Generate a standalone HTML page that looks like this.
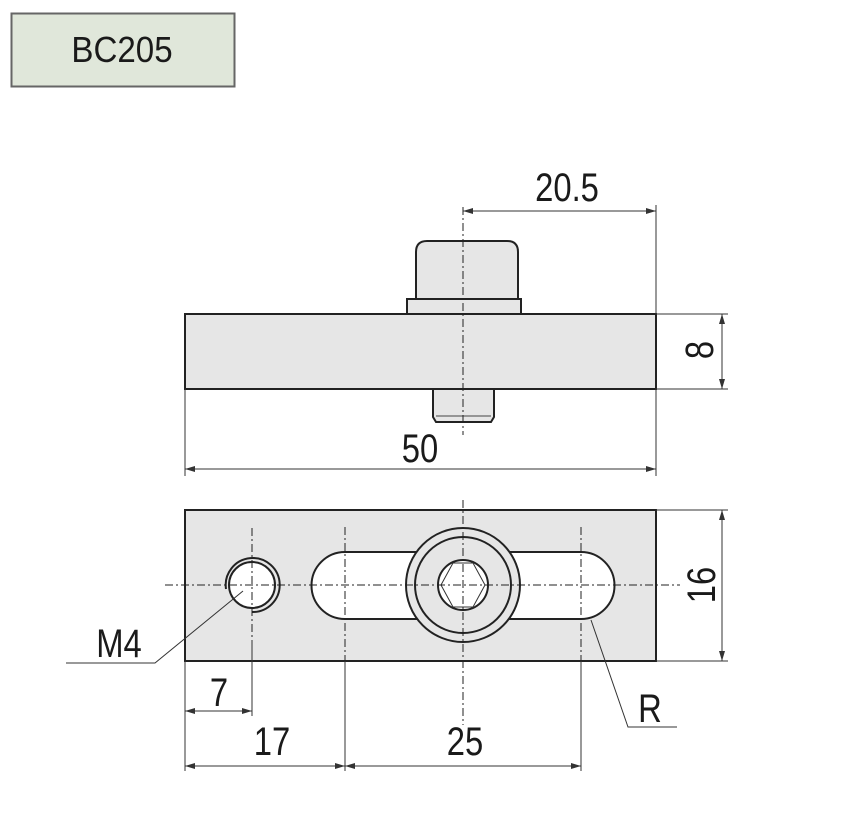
<!DOCTYPE html>
<html><head><meta charset="utf-8"><style>
html,body{margin:0;padding:0;background:#fff;}
svg{display:block}
text{font-family:"Liberation Sans",sans-serif;fill:#1a1a1a}
</style></head><body>
<svg width="854" height="820" viewBox="0 0 854 820" xmlns="http://www.w3.org/2000/svg">
<defs>
<marker id="a" viewBox="0 0 10 6" refX="10" refY="3" markerWidth="10" markerHeight="6" orient="auto-start-reverse" markerUnits="userSpaceOnUse"><path d="M0,0 L10,3 L0,6 z" fill="#333"/></marker>
</defs>
<rect x="11.5" y="13.5" width="223" height="73" fill="#e0e7da" stroke="#666" stroke-width="2"/>
<text x="0" y="0" font-size="36" text-anchor="middle" transform="translate(122,62) scale(0.92,1)">BC205</text>

<!-- top view -->
<g stroke="#222" stroke-width="2" fill="#e6e6e6">
<path d="M416,300 L416,252 Q416,241 427,241 L507,241 Q518,241 518,252 L518,300 Z"/>
<rect x="407" y="299" width="114" height="15"/>
<path d="M433,389 L433,417 L436,422 L491,422 L494,417 L494,389 Z"/>
<rect x="185" y="314" width="471" height="75"/>
</g>
<line x1="436" y1="416" x2="491" y2="416" stroke="#444" stroke-width="1"/>
<line x1="463" y1="207" x2="463" y2="435" stroke="#222" stroke-width="1" stroke-dasharray="8,3,2,3"/>

<!-- dims top -->
<g stroke="#333" stroke-width="1" fill="none">
<line x1="656" y1="205" x2="656" y2="314"/>
<line x1="463" y1="211" x2="656" y2="211" marker-start="url(#a)" marker-end="url(#a)"/>
<line x1="656" y1="314" x2="728" y2="314"/>
<line x1="656" y1="389" x2="728" y2="389"/>
<line x1="722" y1="314" x2="722" y2="389" marker-start="url(#a)" marker-end="url(#a)"/>
<line x1="185" y1="389" x2="185" y2="476"/>
<line x1="656" y1="389" x2="656" y2="476"/>
<line x1="185" y1="469" x2="656" y2="469" marker-start="url(#a)" marker-end="url(#a)"/>
</g>
<text x="0" y="0" font-size="40" text-anchor="middle" transform="translate(567,201) scale(0.82,1)">20.5</text>
<text x="0" y="0" font-size="40" text-anchor="middle" transform="translate(420,462) scale(0.82,1)">50</text>
<text x="0" y="0" font-size="40" text-anchor="middle" transform="translate(713,350) rotate(-90) scale(0.82,1)">8</text>

<!-- bottom view -->
<rect x="185" y="510" width="471" height="151" fill="#e6e6e6" stroke="#222" stroke-width="2"/>
<g stroke="#222" stroke-width="2" fill="#fff">
<path d="M345,552 L581,552 A33.5,33.5 0 0 1 581,619 L345,619 A33.5,33.5 0 0 1 345,552 Z"/>
<circle cx="463" cy="585" r="57" fill="#e6e6e6"/>
<circle cx="463" cy="585" r="48" fill="#e6e6e6"/>
<circle cx="463" cy="585" r="25" fill="#fff"/>
<circle cx="252" cy="585" r="23"/>
<path d="M226,589 A27,27 0 1 1 252,612" fill="none"/>
</g>
<path d="M453,563 L473,563 L485,585 L473,607 L453,607 L441,585 Z" fill="none" stroke="#333" stroke-width="1"/>
<g stroke="#222" stroke-width="1" fill="none" stroke-dasharray="8,3,2,3">
<line x1="165" y1="585" x2="680" y2="585"/>
<line x1="463" y1="500" x2="463" y2="725"/>
<line x1="252" y1="528" x2="252" y2="640"/>
<line x1="345" y1="527" x2="345" y2="661"/>
<line x1="581" y1="527" x2="581" y2="661"/>
</g>
<g stroke="#333" stroke-width="1" fill="none">
<line x1="656" y1="510" x2="728" y2="510"/>
<line x1="656" y1="661" x2="728" y2="661"/>
<line x1="722" y1="510" x2="722" y2="661" marker-start="url(#a)" marker-end="url(#a)"/>
<line x1="185" y1="661" x2="185" y2="771"/>
<line x1="252" y1="640" x2="252" y2="716"/>
<line x1="345" y1="661" x2="345" y2="771"/>
<line x1="581" y1="661" x2="581" y2="771"/>
<line x1="185" y1="711" x2="252" y2="711" marker-start="url(#a)" marker-end="url(#a)"/>
<line x1="185" y1="766" x2="345" y2="766" marker-start="url(#a)" marker-end="url(#a)"/>
<line x1="345" y1="766" x2="581" y2="766" marker-start="url(#a)" marker-end="url(#a)"/>
<polyline points="243,591 155,663 66,663"/>
<polyline points="591,620 628,727 677,727"/>
</g>
<text x="0" y="0" font-size="40" text-anchor="middle" transform="translate(119,657) scale(0.82,1)">M4</text>
<text x="0" y="0" font-size="40" text-anchor="middle" transform="translate(650,722) scale(0.82,1)">R</text>
<text x="0" y="0" font-size="40" text-anchor="middle" transform="translate(219,706) scale(0.82,1)">7</text>
<text x="0" y="0" font-size="40" text-anchor="middle" transform="translate(272,755) scale(0.82,1)">17</text>
<text x="0" y="0" font-size="40" text-anchor="middle" transform="translate(465,755) scale(0.82,1)">25</text>
<text x="0" y="0" font-size="40" text-anchor="middle" transform="translate(715,585) rotate(-90) scale(0.82,1)">16</text>
</svg>
</body></html>
